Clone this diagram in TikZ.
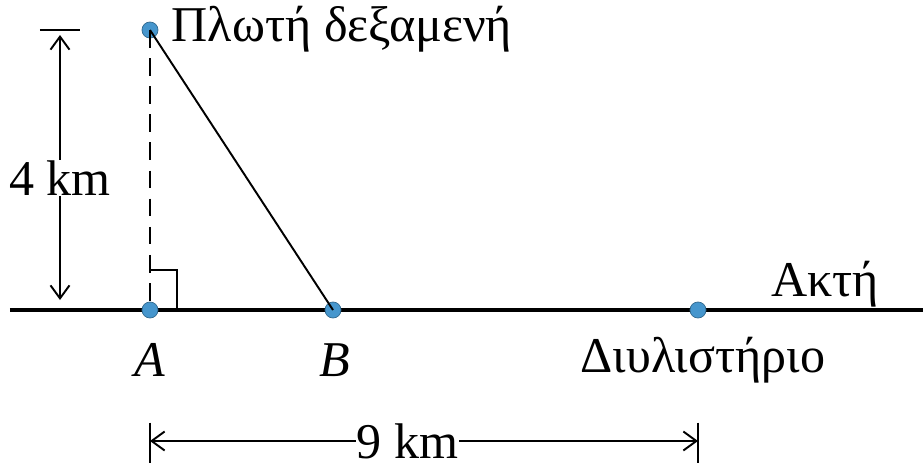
\documentclass[tikz,border=0pt]{standalone}
\usepackage{fontspec}
\setmainfont{Liberation Serif}
\usepackage{xcolor}
\usepackage{tikz}
\usetikzlibrary{arrows.meta}
\definecolor{dotblue}{RGB}{70,150,205}

\begin{document}
\begin{tikzpicture}[
    >={Straight Barb[length=2.6mm,width=3.8mm]},
    line width=1.1pt,
    font=\fontsize{28.5}{32}\selectfont,
    dot/.style={
        circle,
        fill=dotblue,
        draw=dotblue!70!black,
        line width=0.4pt,
        inner sep=0pt,
        minimum size=3.2mm
    },
    dimlabel/.style={
        fill=white,
        inner sep=0.5pt
    }
]
\useasboundingbox (-3.0,-3.2) rectangle (15.46,6.2);

% shore line
\coordinate (shoreLeft) at (-2.8,0);
\coordinate (shoreRight) at (15.46,0);
\draw[line width=2pt] (shoreLeft) -- (shoreRight);

\node[dot] (tank) at (0,5.6) {};
\node[dot] (A) at (0,0) {};
\node[dot] (B) at (3.66,0) {};
\node[dot] (refinery) at (10.96,0) {};

\draw[dashed, dash pattern=on 10pt off 6pt]
(tank.center) -- (A.center);

\draw
(tank.center) -- (B.center);

% right angle
\coordinate (rightUp) at (0,0.8);
\coordinate (rightCorner) at (0.54,0.8);
\coordinate (rightFoot) at (0.54,0);
\draw (rightUp) -- (rightCorner) -- (rightFoot);

\node[anchor=west] (tankLabel) at (0.3,5.62) {Πλωτή δεξαμενή};
\node (labelA) at (0,-1.0) {\textit{A}};
\node (labelB) at (3.7,-1.0) {\textit{B}};
\node (refineryLabel) at (11.06,-1.0) {Διυλιστήριο};
\node (shoreLabel) at (13.5,0.52) {Ακτή};

% vertical dimension
\coordinate (tickLeft) at (-2.2,5.6);
\coordinate (tickRight) at (-1.4,5.6);
\draw (tickLeft) -- (tickRight);

\coordinate (dimTop) at (-1.8,5.5);
\coordinate (dimBottom) at (-1.8,0.2);
\draw[<->]
(dimTop) --
node[pos=0.54, dimlabel] {4 km}
(dimBottom);

% horizontal dimension
\coordinate (tickAup) at (0,-2.25);
\coordinate (tickAdown) at (0,-3.05);
\coordinate (tickDup) at (10.96,-2.25);
\coordinate (tickDdown) at (10.96,-3.05);
\draw (tickAup) -- (tickAdown);
\draw (tickDup) -- (tickDdown);

\coordinate (dimLeft) at (0,-2.62);
\coordinate (dimRight) at (10.96,-2.62);
\draw[<->]
(dimLeft) --
node[pos=0.47, dimlabel] {9 km}
(dimRight);

\end{tikzpicture}
\end{document}
